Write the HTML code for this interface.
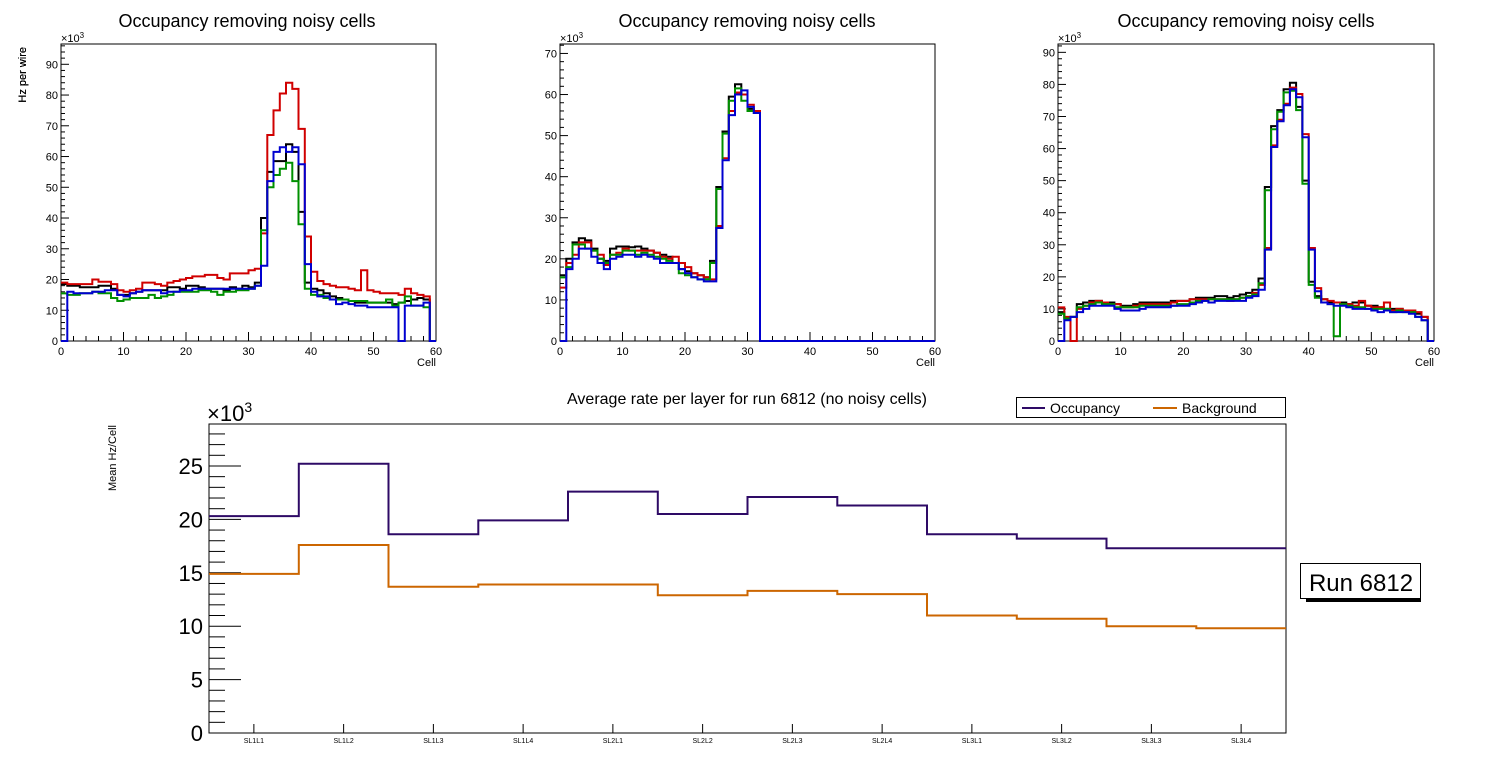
<!DOCTYPE html>
<html><head><meta charset="utf-8"><style>
body{margin:0;background:#fff;}
svg{display:block;font-family:"Liberation Sans",sans-serif;}
</style></head><body>
<svg id="s" width="1496" height="772" xmlns="http://www.w3.org/2000/svg"></svg>
<script>
var S=document.getElementById('s');var out='';
function T(x,y,t,sz,anc,extra){out+='<text x="'+x+'" y="'+y+'" font-size="'+sz+'" text-anchor="'+(anc||'start')+'" '+(extra||'')+'>'+t+'</text>';}
function L(x1,y1,x2,y2,w,c){out+='<line x1="'+x1+'" y1="'+y1+'" x2="'+x2+'" y2="'+y2+'" stroke="'+(c||'#000')+'" stroke-width="'+(w||1)+'"/>';}
var P=[
{x0:61,x1:436,ymax:96.6,major:10,minor:2,lab:[0,10,20,30,40,50,60,70,80,90],cx:247,
d:{k:[18.5,18,18,17.5,17.5,17.5,18,18,17,15,15,15.5,16,16.5,16.5,16.5,16.5,17.5,17.5,17,18,18,17.5,17,17,17,16.5,17.5,17,18,17.5,19,40,55,58.5,58.5,64,61.5,42,19,17,16.5,15.5,14.5,14,13.5,13,12.5,12.5,12.5,12.5,12.5,12.5,12,12.5,13,13.5,14,13.5,0],
r:[19,18.5,18.5,18.5,18.5,20,19.3,19.3,18.5,16.5,16,16.5,17,19,19,18.5,18,19,19.5,20,20.5,21,21,21.5,21.5,20.5,20,22,22,22,23,23.5,35,67,75,80.5,84,82,69,34,22.5,19.5,18.5,18,17.5,17.5,17,16.5,23,16.5,16,15.5,15.5,15.5,15,17,15.5,15,14.5,0],
g:[15.5,15,15,15.5,15.5,16,15.5,15.5,14,13,13.5,14,14,14,15,14,14.5,15,16,16,16,16,16.5,16.5,16,15,16,16,16.5,16.5,17,18,36,50,54,56,58,52,38,17,15,15,14,13.5,13.5,13.5,13,13,13,12.5,12.5,12.5,13.5,11.5,12.5,14.5,11.5,11.5,11,0],
b:[0,16,15.5,15.5,15.5,16,16,16.5,16.5,15,14.5,15.5,16,16.5,16.5,16.5,15.5,16,16,16.5,16.5,17,17,17,17,17,17,17,17,17,17,18,24.5,52,61.5,63,61.5,63,57.5,25,16,14.5,14.5,13.5,12,12.5,12,11.5,11.5,11,11,11,11,11,0,11.5,11.5,11.5,12.5,0]}},
{x0:560,x1:935,ymax:72.3,major:10,minor:2,lab:[0,10,20,30,40,50,60,70],cx:747,
d:{k:[16,20,24,25,24.5,22.5,20,19.5,22.5,23,23,22.8,23,22.5,22,21.5,21,20.5,19,17.5,17,16.5,16,15.5,19.5,37.5,51,59.5,62.5,60,56.5,56],
r:[13,19,21,24,24,22,21,18.5,21,21.5,22.5,22,22,22,22,21.5,20.5,20,20.5,19,18,16.5,16,15.5,15,28,44.5,56,60.5,60,57.5,56],
g:[15.5,18,23.5,23.5,22.5,22,20,19,21,21,22,22,21,21.5,21,20.5,20,19.5,19,16.5,16,15.5,15,15,19,37,50.5,58.5,61.5,58.5,56,55.5],
b:[0,17.5,20,22.5,22.5,20.5,19,17.5,20,20.5,21,21,20.5,21,20.5,20,19,19,19,17.5,16.5,15.5,15,14.5,14.5,27.5,44,55,60,61,57,55.5]}},
{x0:1058,x1:1434,ymax:92.6,major:10,minor:2,lab:[0,10,20,30,40,50,60,70,80,90],cx:1246,
d:{k:[9,7,7.5,11.5,12,12.5,12.5,12,12,11.5,11,11,11.5,12,12,12,12,12,12.5,12.5,12.5,13,13.5,13.5,13.5,14,14,13.5,14,14.5,15,16,19.5,48,67,72,78.5,80.5,73,50,18.5,14,13,12,12,12,11.5,12,12,11,11,10.5,10,10,10,9.5,9.5,8.5,7.5,0],
r:[10.5,7.5,0,10,11,12,12.5,12,11.5,11.5,10.5,10.5,11,11.5,11.5,11.5,11.5,11.5,12,12.5,12.5,13,13,13,13,13,13,12.5,13,13.5,14,15,17.5,29,61,69,74,79,77,64.5,29,16.5,13,12.5,12,11.5,11.5,11,12.5,11,10.5,10.5,12,9.5,10,9.5,9.5,9,7.5,0],
g:[8.5,7,7.5,10.5,11,11.5,12,11.5,11.5,10.5,10.5,10.5,10.5,11,11,11,11,11,11,11.5,11.5,12,12.5,12.5,13,13,13,13,13,13.5,14,14.5,18,47,66,71.5,77.5,78,72,49,17.5,13.5,12,11.5,1.5,11.5,11,10.5,10.5,10,10,10,10,9,9.5,9,9,7.5,6.5,0],
b:[0,6.5,7.5,9,10,11,11,11,11,10,9.5,9.5,9.5,10,10.5,10.5,10.5,10.5,11,11,11,11.5,12,12.5,12,12.5,12.5,12.5,12.5,12.5,13.5,14,16,28.5,60.5,68.5,73.5,78.5,76,63.5,28.5,15.5,12,11.5,11,11,10.5,10,10,10,9.5,9,9.5,9,9,9,8.5,7.5,6.5,0]}}];
var cols={k:'#000',r:'#d00000',g:'#009000',b:'#0000d0'};
P.forEach(function(p){
 var top=44,bot=341,H=bot-top,W=p.x1-p.x0;
 function Y(v){return bot-v/p.ymax*H;}
 function X(c){return p.x0+c/60*W;}
 T(p.cx,27,'Occupancy removing noisy cells',18,'middle');
 out+='<rect x="'+p.x0+'" y="'+top+'" width="'+W+'" height="'+H+'" fill="none" stroke="#000" stroke-width="1"/>';
 for(var v=0;v<=p.ymax;v+=p.minor){var maj=(v%p.major==0);L(p.x0,Y(v),p.x0+(maj?8:4),Y(v));}
 p.lab.forEach(function(v){T(p.x0-3,Y(v)+4,v,11,'end');});
 for(var c=0;c<=60;c+=2){var maj=(c%10==0);L(X(c),bot,X(c),bot-(maj?9:5));}
 for(var c=0;c<=60;c+=10){T(X(c),bot+14,c,11,'middle');}
 T(p.x1,bot+25,'Cell',11,'end');
 T(p.x0,42,'×10<tspan font-size="8" dy="-4">3</tspan>',11,'start');
 T(0,0,'Hz per wire',11,'end','transform="translate(26,47) rotate(-90)"');
 ['k','r','g','b'].forEach(function(k){
  var d=p.d[k];var s='M'+X(0)+','+Y(d[0]);
  for(var i=0;i<60;i++){var v=i<d.length?d[i]:0;if(i>0)s+=' V'+Y(v).toFixed(1);s+=' H'+X(i+1).toFixed(1);}
  out+='<path d="'+s+'" fill="none" stroke="'+cols[k]+'" stroke-width="2"/>';
 });
});
// bottom
(function(){
 var x0=209,x1=1286,top=424,bot=733,ymax=28.93,H=bot-top,bw=(x1-x0)/12;
 function Y(v){return bot-v/ymax*H;}
 T(747,404,'Average rate per layer for run 6812 (no noisy cells)',16,'middle');
 out+='<rect x="'+x0+'" y="'+top+'" width="'+(x1-x0)+'" height="'+H+'" fill="none" stroke="#000" stroke-width="1"/>';
 for(var v=0;v<=28;v+=1){var maj=(v%5==0);L(x0,Y(v),x0+(maj?32:16),Y(v));}
 for(var v=0;v<=25;v+=5){T(x0-6,Y(v)+8,v,22,'end');}
 T(207,421,'×10<tspan font-size="14" dy="-9">3</tspan>',22,'start');
 T(0,0,'Mean Hz/Cell',11,'end','transform="translate(116,425) rotate(-90)"');
 var labs=['SL1L1','SL1L2','SL1L3','SL1L4','SL2L1','SL2L2','SL2L3','SL2L4','SL3L1','SL3L2','SL3L3','SL3L4'];
 labs.forEach(function(l,i){var cx=x0+bw*(i+0.5);L(cx,bot,cx,bot-9);T(cx,743,l,7,'middle');});
 var occ=[20.3,25.2,18.6,19.9,22.6,20.5,22.1,21.3,18.6,18.2,17.3,17.3];
 var bkg=[14.9,17.6,13.7,13.9,13.9,12.9,13.3,13.0,11.0,10.7,10.0,9.8];
 function path(d,c){var s='M'+x0+','+Y(d[0]);for(var i=0;i<12;i++){if(i>0)s+=' V'+Y(d[i]).toFixed(1);s+=' H'+(x0+bw*(i+1)).toFixed(1);}
  out+='<path d="'+s+'" fill="none" stroke="'+c+'" stroke-width="2"/>';}
 path(occ,'#2e0a66');path(bkg,'#cc6600');
 out+='<rect x="1016.5" y="397.5" width="269" height="20" fill="#fff" stroke="#000" stroke-width="1"/>';
 L(1022,408,1045,408,2,'#2e0a66');T(1050,413,'Occupancy',14,'start');
 L(1153,408,1177,408,2,'#cc6600');T(1182,413,'Background',14,'start');
 out+='<rect x="1306" y="598" width="115" height="4" fill="#000"/>';
 out+='<rect x="1300.5" y="563.5" width="120" height="35" fill="#fff" stroke="#000" stroke-width="1"/>';
 T(1361,591,'Run 6812',24,'middle');
})();
S.innerHTML=out;
</script>
</body></html>
